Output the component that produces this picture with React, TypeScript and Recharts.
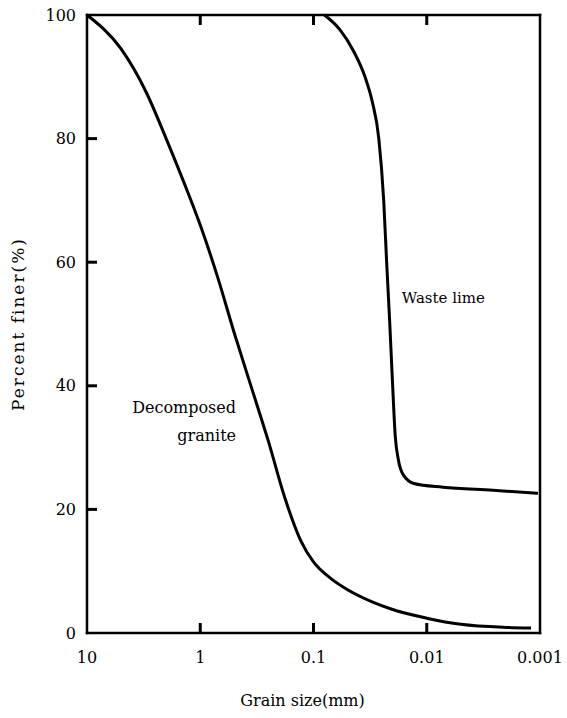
import { LineChart, Line, XAxis, YAxis, ReferenceDot } from 'recharts';

// grain size (mm) / percent finer (%)
const graniteSize = [10, 5, 3, 2, 1.4, 1, 0.7, 0.5, 0.35, 0.25, 0.18, 0.13, 0.1, 0.07, 0.05, 0.03, 0.02, 0.01, 0.005, 0.002, 0.0012];
const granitePct = [100, 94.5, 87.5, 80, 73, 66, 57.5, 48.5, 39.5, 31, 22, 15, 11.5, 8.8, 7, 5, 3.8, 2.4, 1.4, 0.9, 0.8];

const limeSize = [0.08, 0.0583, 0.0447, 0.0351, 0.0303, 0.0265, 0.024, 0.0226, 0.0212, 0.02, 0.019, 0.0178, 0.016, 0.013, 0.0072, 0.0026, 0.00104];
const limePct = [100, 97.6, 94.3, 90, 86, 80, 70, 60, 50, 40, 32, 28, 25.5, 24.2, 23.6, 23.1, 22.6];

const xTicks = [10, 1, 0.1, 0.01, 0.001];
const xTickLabels = ['10', '1', '0.1', '0.01', '0.001'];
const yTicks = [0, 20, 40, 60, 80, 100];

const notes = [
  { d: 0.0166, p: 53.4, lines: ['Waste lime'], anchor: 'start', size: 15 },
  { d: 0.483, p: 35.6, lines: ['Decomposed', 'granite'], anchor: 'end', size: 16 },
];

const granite = graniteSize.map((d, i) => ({ d, p: granitePct[i] }));
const lime = limeSize.map((d, i) => ({ d, p: limePct[i] }));

const FONT = 'DejaVu Serif';
const INK = '#000';
const TICK = 10;

// corner ticks (ends of each axis) are not drawn
function tickLen(v: any) {
  const n = Number(v);
  return n === 10 || n === 0.001 || n === 0 || n === 100 ? 0 : TICK;
}

function BottomTick(props: any) {
  const { x, y, payload } = props;
  const v = payload.value;
  return (
    <g>
      <path d={`M${x},${y}V${y - tickLen(v)}`} stroke={INK} strokeWidth={3} fill="none" />
      <text x={x} y={y + 30} textAnchor="middle" fontFamily={FONT} fontSize={16} fill={INK}>
        {xTickLabels[xTicks.indexOf(v)]}
      </text>
    </g>
  );
}

function TopTick(props: any) {
  const { x, y, payload } = props;
  return <path d={`M${x},${y}V${y + tickLen(payload.value)}`} stroke={INK} strokeWidth={3} fill="none" />;
}

function LeftTick(props: any) {
  const { x, y, payload } = props;
  const v = payload.value;
  return (
    <g>
      <path d={`M${x},${y}H${x + tickLen(v)}`} stroke={INK} strokeWidth={3} fill="none" />
      <text x={x - 11} y={y + 5.5} textAnchor="end" fontFamily={FONT} fontSize={16} fill={INK}>
        {v}
      </text>
    </g>
  );
}

function RightTick(props: any) {
  const { x, y, payload } = props;
  return <path d={`M${x},${y}H${x - tickLen(payload.value)}`} stroke={INK} strokeWidth={3} fill="none" />;
}

function NoteLabel(lines: string[], anchor: string, size: number) {
  return ({ viewBox }: any) => {
    const cx = viewBox.x + viewBox.width / 2;
    const cy = viewBox.y + viewBox.height / 2;
    return (
      <text x={cx} y={cy} textAnchor={anchor} fontFamily={FONT} fontSize={size} fill={INK}>
        {lines.map((t, i) => (
          <tspan key={i} x={cx} dy={i === 0 ? 0 : 28}>{t}</tspan>
        ))}
      </text>
    );
  };
}

const axisLine = { stroke: INK, strokeWidth: 2.5, strokeLinecap: 'square' as const };

export default function App() {
  return (
    <div style={{ position: 'absolute', left: 0, top: 0, background: '#fff' }}>
      <LineChart width={567} height={718} margin={{ top: 10, right: 17, bottom: 0, left: 0 }}>
        <XAxis
          dataKey="d"
          type="number"
          scale="log"
          domain={[0.001, 10]}
          reversed
          allowDataOverflow
          ticks={xTicks}
          interval={0}
          height={85}
          tickSize={0}
          tickMargin={0}
          tickLine={false}
          axisLine={axisLine}
          tick={BottomTick}
          label={{ value: 'Grain size(mm)', position: 'insideBottom', offset: 12, dx: -11, fontFamily: FONT, fontSize: 16, fill: INK }}
        />
        <XAxis
          xAxisId="top"
          orientation="top"
          dataKey="d"
          type="number"
          scale="log"
          domain={[0.001, 10]}
          reversed
          allowDataOverflow
          ticks={xTicks}
          interval={0}
          height={5}
          tickSize={0}
          tickMargin={0}
          tickLine={false}
          axisLine={axisLine}
          tick={TopTick}
        />
        <YAxis
          type="number"
          domain={[0, 100]}
          ticks={yTicks}
          interval={0}
          width={87}
          tickSize={0}
          tickMargin={0}
          tickLine={false}
          axisLine={axisLine}
          tick={LeftTick}
          label={{ value: 'Percent finer(%)', angle: -90, position: 'insideLeft', offset: 18, style: { textAnchor: 'middle', letterSpacing: 2 }, fontFamily: FONT, fontSize: 17, fill: INK }}
        />
        <YAxis
          yAxisId="right"
          orientation="right"
          type="number"
          domain={[0, 100]}
          ticks={yTicks}
          interval={0}
          width={10}
          tickSize={0}
          tickMargin={0}
          tickLine={false}
          axisLine={axisLine}
          tick={RightTick}
        />
        <Line data={granite} dataKey="p" type="monotone" stroke={INK} strokeWidth={3} dot={false} isAnimationActive={false} />
        <Line data={lime} dataKey="p" type="monotone" stroke={INK} strokeWidth={3} dot={false} isAnimationActive={false} />
        {notes.map((n, i) => (
          <ReferenceDot key={i} x={n.d} y={n.p} r={1} fill="none" stroke="none" label={NoteLabel(n.lines, n.anchor, n.size)} />
        ))}
      </LineChart>
    </div>
  );
}
